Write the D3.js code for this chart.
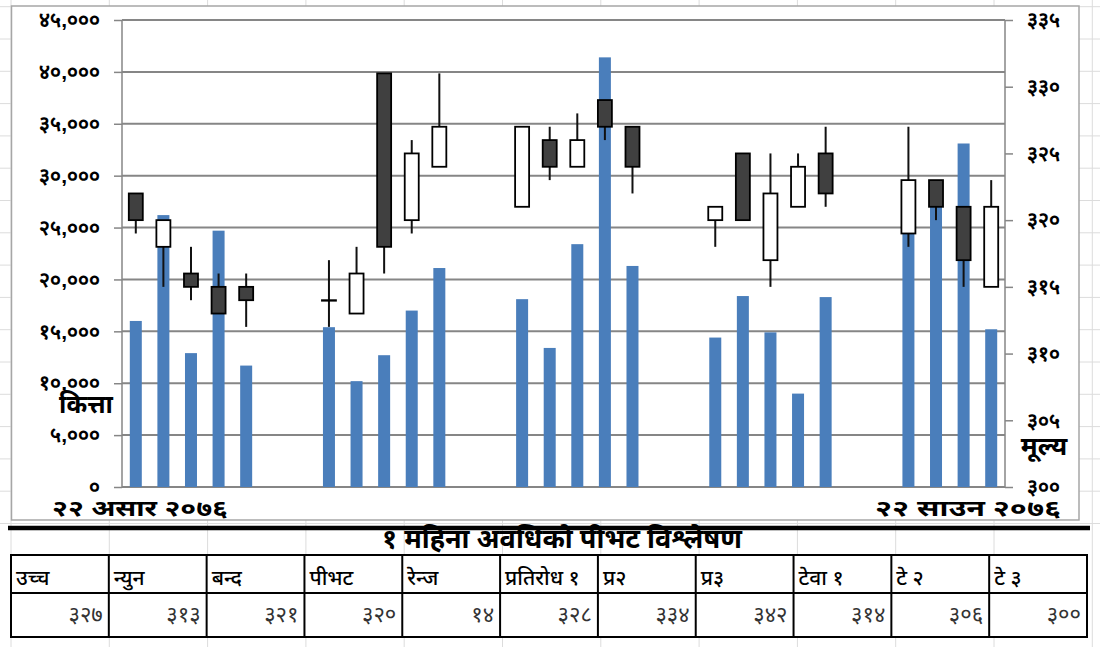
<!DOCTYPE html>
<html>
<head>
<meta charset="utf-8">
<script src="https://cdn.jsdelivr.net/npm/d3@7/dist/d3.min.js"></script>
<style>
  body { margin: 0; background: #fff; }
  svg { display: block; font-family: "Noto Sans Devanagari", "Mangal", "Lohit Devanagari", "Noto Sans", sans-serif; }
  .axis text { font-size: 21px; font-weight: bold; fill: #000; }
  .axis path, .axis line { stroke: #868686; stroke-width: 1.5; }
</style>
</head>
<body>
<div class="graph"></div>
<script>
// 32 day slots from 22 Asar to 22 Saun, trading days only have data
var slots = d3.range(32);
var tradeSlot = [0, 1, 2, 3, 4, 7, 8, 9, 10, 11, 14, 15, 16, 17, 18, 21, 22, 23, 24, 25, 28, 29, 30, 31];

var volume = [16000, 26200, 12900, 24700, 11700,
              15400, 10200, 12700, 17000, 21100,
              18100, 13400, 23400, 41400, 21300,
              14400, 18400, 14900, 9000, 18300,
              24500, 28000, 33100, 15200];

var open  = [322, 318, 316, 315, 315, 314, 313, 331, 320, 324, 321, 326, 324, 329, 327, 320, 325, 317, 321, 325, 319, 323, 321, 315];
var high  = [322, 320, 318, 316, 316, 317, 318, 331, 326, 331, 327, 327, 328, 329, 327, 321, 325, 325, 325, 327, 327, 323, 321, 323];
var low   = [319, 315, 314, 313, 312, 312, 313, 316, 319, 324, 321, 323, 324, 326, 322, 318, 320, 315, 321, 321, 318, 320, 315, 315];
var close = [320, 320, 315, 313, 314, 314, 316, 318, 325, 327, 327, 324, 326, 327, 324, 321, 320, 322, 324, 322, 323, 321, 317, 321];

var leftTicks = [0, 5000, 10000, 15000, 20000, 25000, 30000, 35000, 40000, 45000];
var rightTicks = [300, 305, 310, 315, 320, 325, 330, 335];

var startLabel = '२२ असार २०७६';
var endLabel = '२२ साउन २०७६';

var tableTitle = '१ महिना अवधिको पीभट विश्लेषण';
var tableHeads = ['उच्च', 'न्युन', 'बन्द', 'पीभट', 'रेन्ज', 'प्रतिरोध १', 'प्र२', 'प्र३', 'टेवा १', 'टे २', 'टे ३'];
var tableValues = [327, 313, 321, 320, 14, 328, 334, 342, 314, 306, 300];

var W = 1100, H = 647;
var plot = {left: 122, right: 1005, top: 20, bottom: 487};

var devDigits = '०१२३४५६७८९';
function dev(s) {
  return String(s).replace(/[0-9]/g, function(d) { return devDigits[+d]; });
}

var x = d3.scaleBand().domain(slots).range([plot.left, plot.right]),
    yVol = d3.scaleLinear().domain([0, 45000]).range([plot.bottom, plot.top]),
    yPrice = d3.scaleLinear().domain([300, 335]).range([plot.bottom, plot.top]);

var data = tradeSlot.map(function(s, i) {
  return {slot: s, volume: volume[i], open: open[i], high: high[i], low: low[i], close: close[i]};
});

var svg = d3.select('.graph').append('svg')
            .attr('width', W)
            .attr('height', H);

// faint spreadsheet cells behind everything
var cells = svg.append('g').attr('stroke', '#dcdcdc').attr('stroke-width', 1);
d3.range(12).forEach(function(i) {
  var cx = 11 + i * 98.3;
  cells.append('line').attr('x1', cx).attr('x2', cx).attr('y1', 0).attr('y2', H);
});
d3.range(17).forEach(function(i) {
  var cy = 6.7 + i * 32.3;
  cells.append('line').attr('x1', 0).attr('x2', W).attr('y1', cy).attr('y2', cy);
});

// chart area
svg.append('rect')
   .attr('x', 11.5).attr('y', 6)
   .attr('width', 1079 - 11.5).attr('height', 520 - 6)
   .attr('fill', '#fff')
   .attr('stroke', '#a6a6a6')
   .attr('stroke-width', 1.5);

// gridlines
svg.append('g')
   .selectAll('line')
   .data(leftTicks)
   .enter()
   .append('line')
   .attr('x1', plot.left).attr('x2', plot.right)
   .attr('y1', function(d) { return yVol(d); })
   .attr('y2', function(d) { return yVol(d); })
   .attr('stroke', '#868686')
   .attr('stroke-width', 2);

// volume bars
var barW = 12;
svg.append('g')
   .selectAll('rect')
   .data(data)
   .enter()
   .append('rect')
   .attr('x', function(d) { return x(d.slot) + x.bandwidth() / 2 - barW / 2; })
   .attr('y', function(d) { return yVol(d.volume); })
   .attr('width', barW)
   .attr('height', function(d) { return yVol(0) - yVol(d.volume); })
   .attr('fill', '#4a7ebb');

// candles
var candleW = 14;
var candle = svg.append('g')
                .selectAll('.candle')
                .data(data)
                .enter()
                .append('g')
                .attr('class', 'candle')
                .attr('transform', function(d) { return 'translate(' + (x(d.slot) + x.bandwidth() / 2) + ',0)'; });

candle.append('line')
      .attr('y1', function(d) { return yPrice(d.high); })
      .attr('y2', function(d) { return yPrice(d.low); })
      .attr('stroke', '#111')
      .attr('stroke-width', 2);

candle.append('rect')
      .attr('x', -candleW / 2)
      .attr('y', function(d) { return yPrice(Math.max(d.open, d.close)); })
      .attr('width', candleW)
      .attr('height', function(d) { return Math.max(0.5, Math.abs(yPrice(d.open) - yPrice(d.close))); })
      .attr('fill', function(d) { return d.close < d.open ? '#404040' : '#fff'; })
      .attr('stroke', '#000')
      .attr('stroke-width', 1.8);

// axes
svg.append('g')
   .attr('class', 'axis')
   .attr('transform', 'translate(' + plot.left + ',0)')
   .call(d3.axisLeft(yVol).tickValues(leftTicks).tickSize(8).tickPadding(14)
           .tickFormat(function(d) { return dev(d3.format(',')(d)); }));

svg.append('g')
   .attr('class', 'axis')
   .attr('transform', 'translate(' + plot.right + ',0)')
   .call(d3.axisRight(yPrice).tickValues(rightTicks).tickSize(8).tickPadding(14)
           .tickFormat(dev));

svg.selectAll('.axis .domain').attr('d', 'M0,' + plot.top + 'V' + plot.bottom);

// axis titles and date labels
svg.append('text')
   .attr('x', 86).attr('y', 413)
   .attr('text-anchor', 'middle')
   .style('font-size', '25px').style('font-weight', 'bold')
   .text('कित्ता');

svg.append('text')
   .attr('x', 1044).attr('y', 455)
   .attr('text-anchor', 'middle')
   .style('font-size', '26px').style('font-weight', 'bold')
   .text('मूल्य');

svg.append('text')
   .attr('x', 52).attr('y', 516)
   .attr('textLength', 176)
   .attr('lengthAdjust', 'spacingAndGlyphs')
   .style('font-size', '22px').style('font-weight', 'bold')
   .text(startLabel);

svg.append('text')
   .attr('x', 875).attr('y', 516)
   .attr('textLength', 186)
   .attr('lengthAdjust', 'spacingAndGlyphs')
   .style('font-size', '22px').style('font-weight', 'bold')
   .text(endLabel);

// thick separator
svg.append('line')
   .attr('x1', 8).attr('x2', 1090)
   .attr('y1', 528).attr('y2', 528)
   .attr('stroke', '#000')
   .attr('stroke-width', 4.5);

// pivot table
var col = d3.scaleBand().domain(d3.range(tableHeads.length)).range([11, 1087]);
var rowTop = 555, rowMid = 593, rowBot = 637;

svg.append('text')
   .attr('x', 562).attr('y', 548)
   .attr('text-anchor', 'middle')
   .style('font-size', '27px').style('font-weight', 'bold')
   .text(tableTitle);

var table = svg.append('g');

table.append('rect')
     .attr('x', col(0)).attr('y', rowTop)
     .attr('width', col.range()[1] - col.range()[0])
     .attr('height', rowBot - rowTop)
     .attr('fill', '#fff')
     .attr('stroke', '#000')
     .attr('stroke-width', 2);

table.append('line')
     .attr('x1', col(0)).attr('x2', col.range()[1])
     .attr('y1', rowMid).attr('y2', rowMid)
     .attr('stroke', '#000').attr('stroke-width', 2);

table.selectAll('.sep')
     .data(d3.range(1, tableHeads.length))
     .enter()
     .append('line')
     .attr('x1', function(i) { return col(i); })
     .attr('x2', function(i) { return col(i); })
     .attr('y1', rowTop).attr('y2', rowBot)
     .attr('stroke', '#000').attr('stroke-width', 2);

table.selectAll('.head')
     .data(tableHeads)
     .enter()
     .append('text')
     .attr('x', function(d, i) { return col(i) + 5; })
     .attr('y', 585)
     .style('font-size', '21px')
     .style('font-weight', '500')
     .text(function(d) { return d; });

table.selectAll('.val')
     .data(tableValues)
     .enter()
     .append('text')
     .attr('x', function(d, i) { return col(i) + col.bandwidth() - 6; })
     .attr('y', 622)
     .attr('text-anchor', 'end')
     .style('font-size', '22px')
     .style('fill', '#333')
     .text(function(d) { return dev(d); });
</script>
</body>
</html>
